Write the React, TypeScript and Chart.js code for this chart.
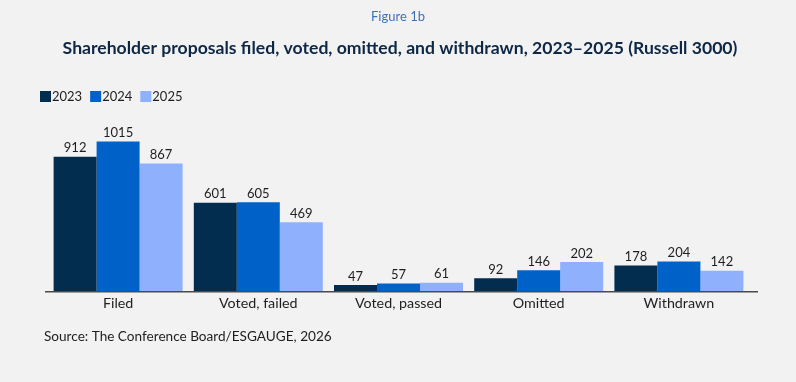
import React, { useEffect, useRef } from "react";
import { Chart, registerables } from "chart.js";

Chart.register(...registerables);

const categories = ["Filed", "Voted, failed", "Voted, passed", "Omitted", "Withdrawn"];
const seriesLabels = ["2023", "2024", "2025"];
const values2023 = [912, 601, 47, 92, 178];
const values2024 = [1015, 605, 57, 146, 204];
const values2025 = [867, 469, 61, 202, 142];
const seriesColors = ["#022d4f", "#0062c8", "#8eb0fd"];

const figureLabel = "Figure 1b";
const titleText = "Shareholder proposals filed, voted, omitted, and withdrawn, 2023\u20132025 (Russell 3000)";
const sourceText = "Source: The Conference Board/ESGAUGE, 2026";

const FONT = "Lato, 'Noto Sans', sans-serif";

const decorPlugin = {
  id: "decor",
  afterDatasetsDraw(chart: any) {
    const ctx = chart.ctx;
    ctx.save();
    const yb = chart.chartArea.bottom;
    ctx.strokeStyle = "#4a4a4a";
    ctx.lineWidth = 1.5;
    ctx.beginPath();
    ctx.moveTo(chart.chartArea.left - 3, yb);
    ctx.lineTo(chart.chartArea.right + 9, yb);
    ctx.stroke();
    ctx.font = `13px ${FONT}`;
    ctx.fillStyle = "#1e1e1e";
    ctx.textAlign = "center";
    ctx.textBaseline = "bottom";
    chart.data.datasets.forEach((ds: any, di: number) => {
      const meta = chart.getDatasetMeta(di);
      meta.data.forEach((bar: any, i: number) => {
        ctx.fillText(String(ds.data[i]), bar.x, bar.y - 2);
      });
    });
    ctx.restore();
  },
  afterDraw(chart: any) {
    const ctx = chart.ctx;
    const w = chart.width;
    ctx.save();
    ctx.textAlign = "center";
    ctx.textBaseline = "middle";
    ctx.font = `13px ${FONT}`;
    ctx.fillStyle = "#3e72b8";
    ctx.fillText(figureLabel, w / 2, 17);
    ctx.font = `bold 17.6px ${FONT}`;
    ctx.fillStyle = "#0d2745";
    ctx.fillText(titleText, 400, 48);
    ctx.textAlign = "left";
    ctx.font = `13px ${FONT}`;
    let x = 40;
    chart.data.datasets.forEach((ds: any) => {
      ctx.fillStyle = ds.backgroundColor;
      ctx.fillRect(x, 91, 11, 11);
      ctx.fillStyle = "#1e1e1e";
      ctx.fillText(ds.label, x + 12, 97);
      x += 12 + ctx.measureText(ds.label).width + 8;
    });
    ctx.font = `13.6px ${FONT}`;
    ctx.fillStyle = "#1e1e1e";
    ctx.fillText(sourceText, 44, 337);
    ctx.restore();
  },
};

export default function App() {
  const ref = useRef<HTMLCanvasElement>(null);
  useEffect(() => {
    document.body.style.margin = "0";
    const datasets = [values2023, values2024, values2025].map((d, i) => ({
      label: seriesLabels[i],
      data: d,
      backgroundColor: seriesColors[i],
      borderWidth: 0,
      categoryPercentage: 0.92,
      barPercentage: 1.0,
    }));
    const chart = new Chart(ref.current!, {
      type: "bar",
      data: { labels: categories, datasets },
      options: {
        animation: false,
        responsive: false,
        devicePixelRatio: 1,
        layout: { padding: { left: 48, right: 47, top: 120, bottom: 67 } },
        plugins: {
          legend: { display: false },
          title: { display: false },
          tooltip: { enabled: false },
        },
        scales: {
          x: {
            grid: { display: false, drawTicks: false },
            border: { display: false },
            ticks: { font: { family: FONT, size: 14.3 }, color: "#1e1e1e", padding: 3 },
          },
          y: {
            display: false,
            min: 0,
            max: 1160,
          },
        },
      },
      plugins: [decorPlugin],
    });
    return () => chart.destroy();
  }, []);
  return (
    <div style={{ position: "fixed", left: 0, top: 0, width: 796, height: 382, background: "#f2f2f2" }}>
      <canvas ref={ref} width={796} height={382} />
    </div>
  );
}
